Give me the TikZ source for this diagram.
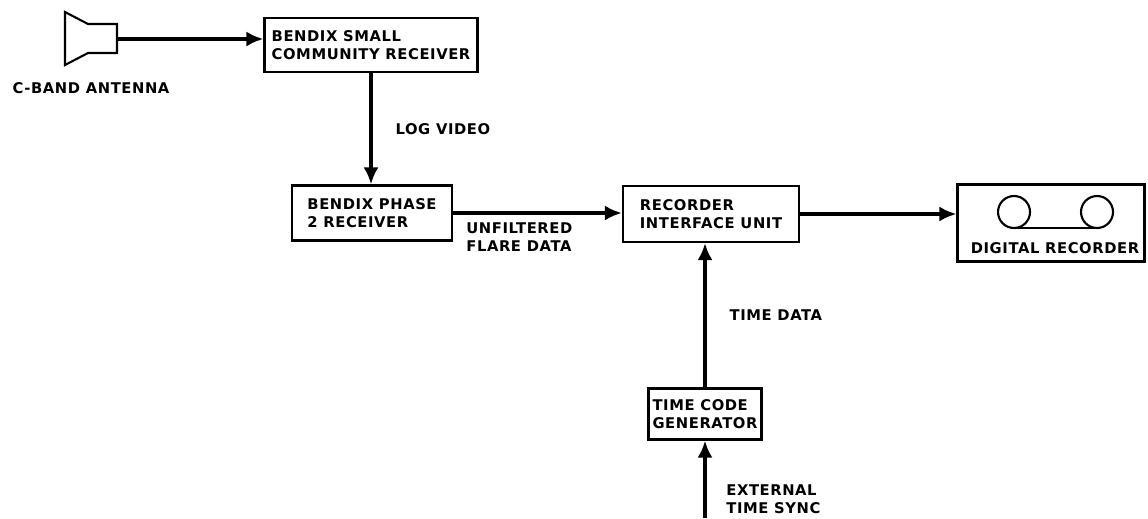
\documentclass[tikz,border=0pt]{standalone}
\usepackage{fontspec}
\setmainfont{DejaVu Sans}[LetterSpace=4]
\usetikzlibrary{arrows.meta}

\begin{document}
\begin{tikzpicture}[x=0.02cm,y=-0.02cm,
  font=\bfseries\fontsize{8.4}{10.2}\selectfont,
  box/.style={draw,line width=1.2pt,align=left,inner sep=2pt},
  lbl/.style={align=left,inner sep=0pt},
  flow/.style={line width=2pt,-{Latex[length=3.4mm,width=3mm]}}]
\useasboundingbox (0,0) rectangle (1148,518);
% antenna horn
\draw[line width=1.2pt] (65,12) -- (88,24) -- (117,24) -- (117,53) -- (88,53) -- (65,65) -- cycle;
\coordinate (horn) at (117,39);
\node[lbl] (antenna) at (91,88) {C-BAND ANTENNA};
% boxes
\node[box,minimum width=4.26cm,minimum height=1.08cm] (scr) at (371,45) {BENDIX SMALL\\COMMUNITY RECEIVER};
\node[box,minimum width=3.2cm,minimum height=1.1cm] (phase) at (372,213) {BENDIX PHASE\\2 RECEIVER};
\node[box,minimum width=3.52cm,minimum height=1.12cm] (riu) at (711,214) {RECORDER\\INTERFACE UNIT};
\node[box,minimum width=3.74cm,minimum height=1.54cm] (rec) at (1051,223) {};
\node[box,minimum width=2.26cm,minimum height=1.02cm] (tcg) at (705,414) {TIME CODE\\GENERATOR};
\coordinate (sync) at (tcg.south |- 0,518);
% tape reels
\draw[line width=1.2pt] (1014,212) circle[radius=16] (1097,212) circle[radius=16];
\draw[line width=1.2pt] (1014,228) -- (1097,228);
\node[lbl] (reclbl) at (1055,248) {DIGITAL RECORDER};
% connectors
\draw[flow] (horn) -- (horn -| scr.west);
\draw[flow] (scr.south) -- (scr.south |- phase.north) node[lbl,midway,right=13pt] {LOG VIDEO};
\draw[flow] (phase.east) -- (phase.east -| riu.west);
\node[lbl,anchor=west] (unfilt) at (466,237) {UNFILTERED\\FLARE DATA};
\draw[flow] (riu.east) -- (riu.east -| rec.west);
\draw[flow] (tcg.north) -- (tcg.north |- riu.south) node[lbl,midway,right=13pt] {TIME DATA};
\draw[flow] (sync) -- (tcg.south);
\node[lbl,anchor=west] (extsync) at (726,499) {EXTERNAL\\TIME SYNC};
\end{tikzpicture}
\end{document}
